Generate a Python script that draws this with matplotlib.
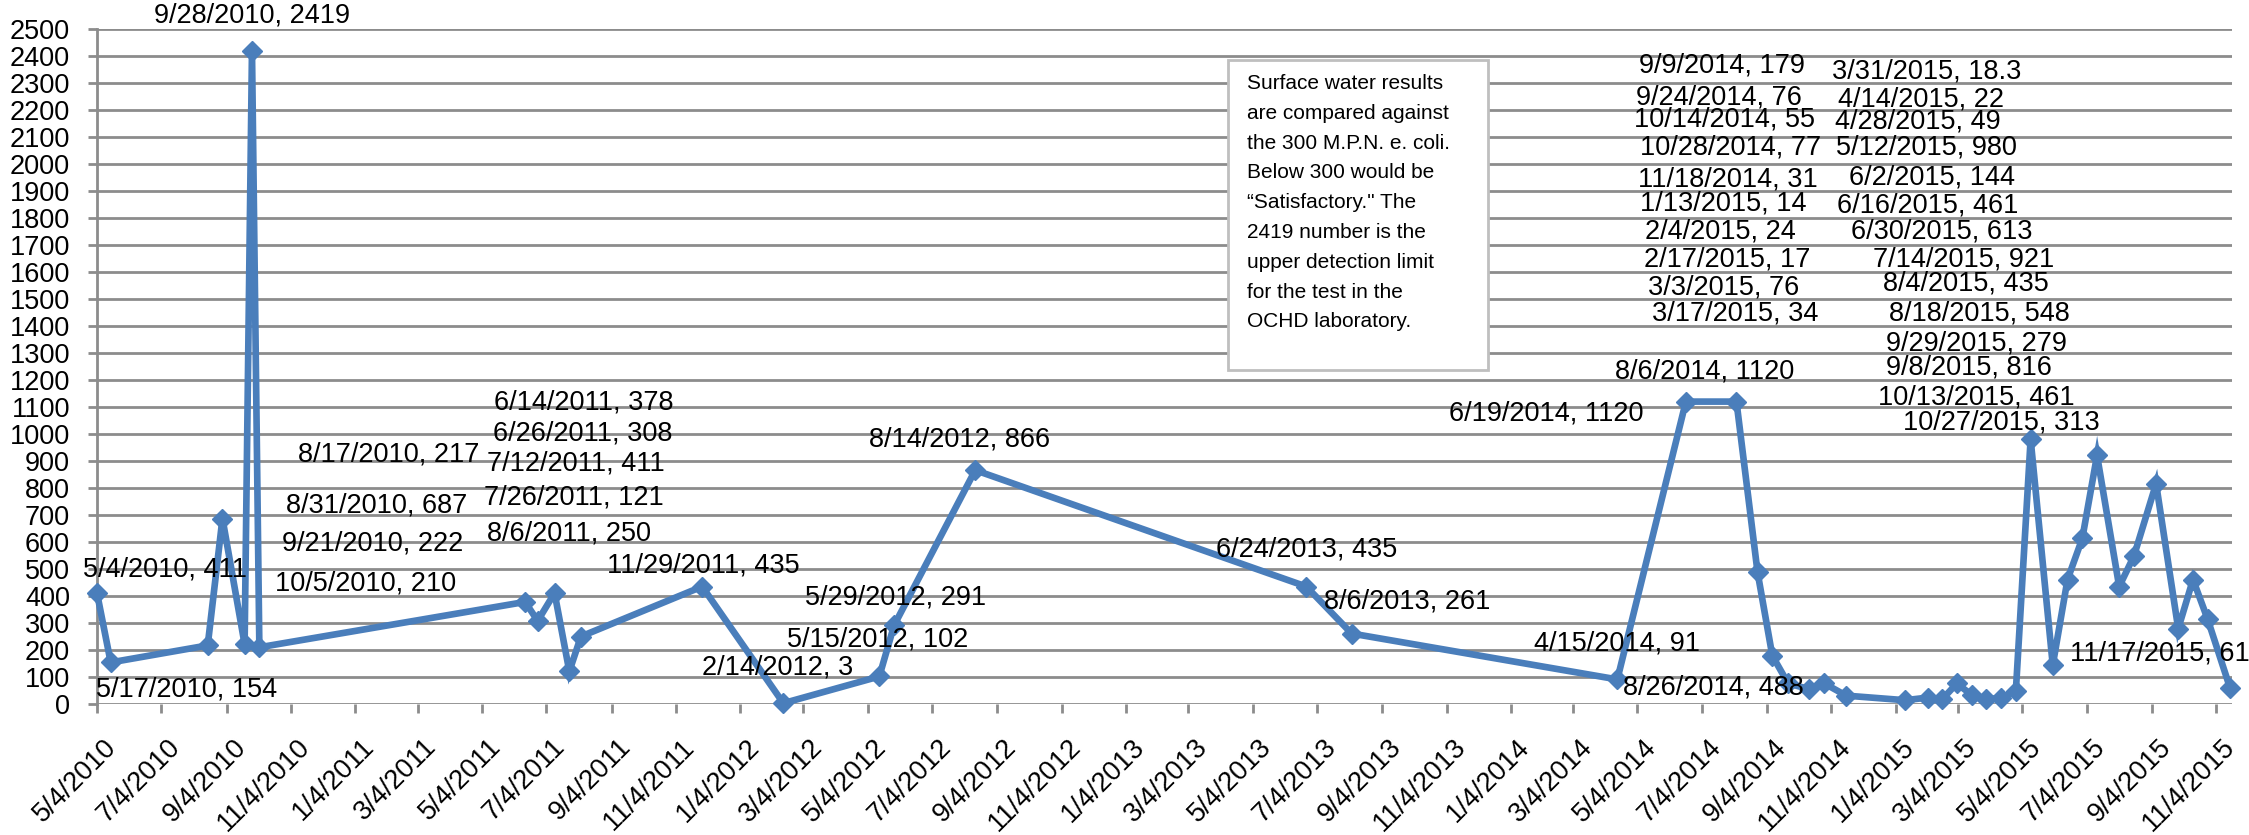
import matplotlib
matplotlib.use("Agg")
import matplotlib.pyplot as plt
import matplotlib.dates as mdates
import matplotlib.transforms as mtransforms
from matplotlib.patches import Rectangle
import pandas as pd

W, H = 2249, 835
BLUE = "#4a7ebb"
GRID = "#8c8c8c"

sample_dates = [
    "5/4/2010", "5/17/2010", "8/17/2010", "8/31/2010", "9/21/2010", "9/28/2010",
    "10/5/2010", "6/14/2011", "6/26/2011", "7/12/2011", "7/26/2011", "8/6/2011",
    "11/29/2011", "2/14/2012", "5/15/2012", "5/29/2012", "8/14/2012", "6/24/2013",
    "8/6/2013", "4/15/2014", "6/19/2014", "8/6/2014", "8/26/2014", "9/9/2014",
    "9/24/2014", "10/14/2014", "10/28/2014", "11/18/2014", "1/13/2015", "2/4/2015",
    "2/17/2015", "3/3/2015", "3/17/2015", "3/31/2015", "4/14/2015", "4/28/2015",
    "5/12/2015", "6/2/2015", "6/16/2015", "6/30/2015", "7/14/2015", "8/4/2015",
    "8/18/2015", "9/8/2015", "9/29/2015", "10/13/2015", "10/27/2015", "11/17/2015",
]
ecoli_mpn = [
    411, 154, 217, 687, 222, 2419,
    210, 378, 308, 411, 121, 250,
    435, 3, 102, 291, 866, 435,
    261, 91, 1120, 1120, 488, 179,
    76, 55, 77, 31, 14, 24,
    17, 76, 34, 18.3, 22, 49,
    980, 144, 461, 613, 921, 435,
    548, 816, 279, 461, 313, 61,
]

# where the data labels sit in the original (figure pixels, text centre)
label_xy = [
    (165, 569), (187, 690), (389, 454), (377, 505), (373, 543), (252, 15),
    (366, 583), (584, 402), (583, 433), (576, 464), (574, 498), (569, 533),
    (703, 565), (778, 668), (878, 640), (896, 597), (960, 439), (1307, 550),
    (1407, 602), (1617, 643), (1546, 413), (1705, 372), (1713, 688), (1722, 65),
    (1719, 97), (1725, 120), (1731, 148), (1728, 180), (1723, 203), (1720, 231),
    (1727, 260), (1724, 287), (1735, 313), (1927, 72), (1921, 99), (1918, 121),
    (1926, 148), (1932, 177), (1928, 205), (1942, 232), (1964, 260), (1966, 283),
    (1979, 313), (1969, 368), (1976, 343), (1976, 397), (2001, 423), (2160, 653),
]

note = ("Surface water results\n"
        "are compared against\n"
        "the 300 M.P.N. e. coli.\n"
        "Below 300 would be\n"
        "\u201cSatisfactory.\" The\n"
        "2419 number is the\n"
        "upper detection limit\n"
        "for the test in the\n"
        "OCHD laboratory.")

plt.rcParams["font.family"] = ["Liberation Sans", "DejaVu Sans"]
FS = 19.5

x = pd.to_datetime(sample_dates, format="%m/%d/%Y")

fig = plt.figure(figsize=(W / 100, H / 100), dpi=100)
ax = fig.add_axes([97 / W, 1 - 704 / H, 2135 / W, 675 / H])

ax.plot(x, ecoli_mpn, color=BLUE, lw=4.8, marker="D", ms=10,
        solid_joinstyle="miter", clip_on=False, zorder=3)

ax.set_ylim(0, 2500)
ax.set_yticks(range(0, 2501, 100))
ax.set_xlim(pd.Timestamp("2010-05-04"), pd.Timestamp("2015-11-19"))
ax.xaxis.set_major_locator(mdates.MonthLocator(bymonth=[1, 3, 5, 7, 9, 11], bymonthday=4))


def _fmt_date(v, _pos):
    d = mdates.num2date(v)
    return f"{d.month}/{d.day}/{d.year}"


ax.xaxis.set_major_formatter(plt.FuncFormatter(_fmt_date))

ax.grid(axis="y", color=GRID, lw=2)
ax.set_axisbelow(True)
for side in ("top", "right", "bottom"):
    ax.spines[side].set_visible(False)
ax.spines["left"].set_color(GRID)
ax.spines["left"].set_linewidth(2)
ax.tick_params(axis="both", color=GRID, width=2, length=6.5, labelsize=FS)
ax.tick_params(axis="y", pad=13)
ax.tick_params(axis="x", pad=15)

shift = mtransforms.ScaledTranslation(6 / 100, 0, fig.dpi_scale_trans)
for lab in ax.get_xticklabels():
    lab.set_rotation(45)
    lab.set_ha("right")
    lab.set_va("top")
    lab.set_rotation_mode("anchor")
    lab.set_transform(lab.get_transform() + shift)

# data labels, "date, value" like Excel shows them
for d, v, (px, py) in zip(sample_dates, ecoli_mpn, label_xy):
    fig.text(px / W, 1 - py / H, f"{d}, {v:g}", fontsize=FS,
             ha="center", va="center", zorder=5)

# note box
fig.patches.append(Rectangle((1228 / W, 1 - 370 / H), 260 / W, 310 / H,
                             transform=fig.transFigure, facecolor="white",
                             edgecolor="#bfbfbf", lw=2, zorder=4))
fig.text(1247 / W, 1 - 74 / H, note, fontsize=15, ha="left", va="top",
         linespacing=1.72, zorder=6)

fig.savefig("out.png", dpi=100)
